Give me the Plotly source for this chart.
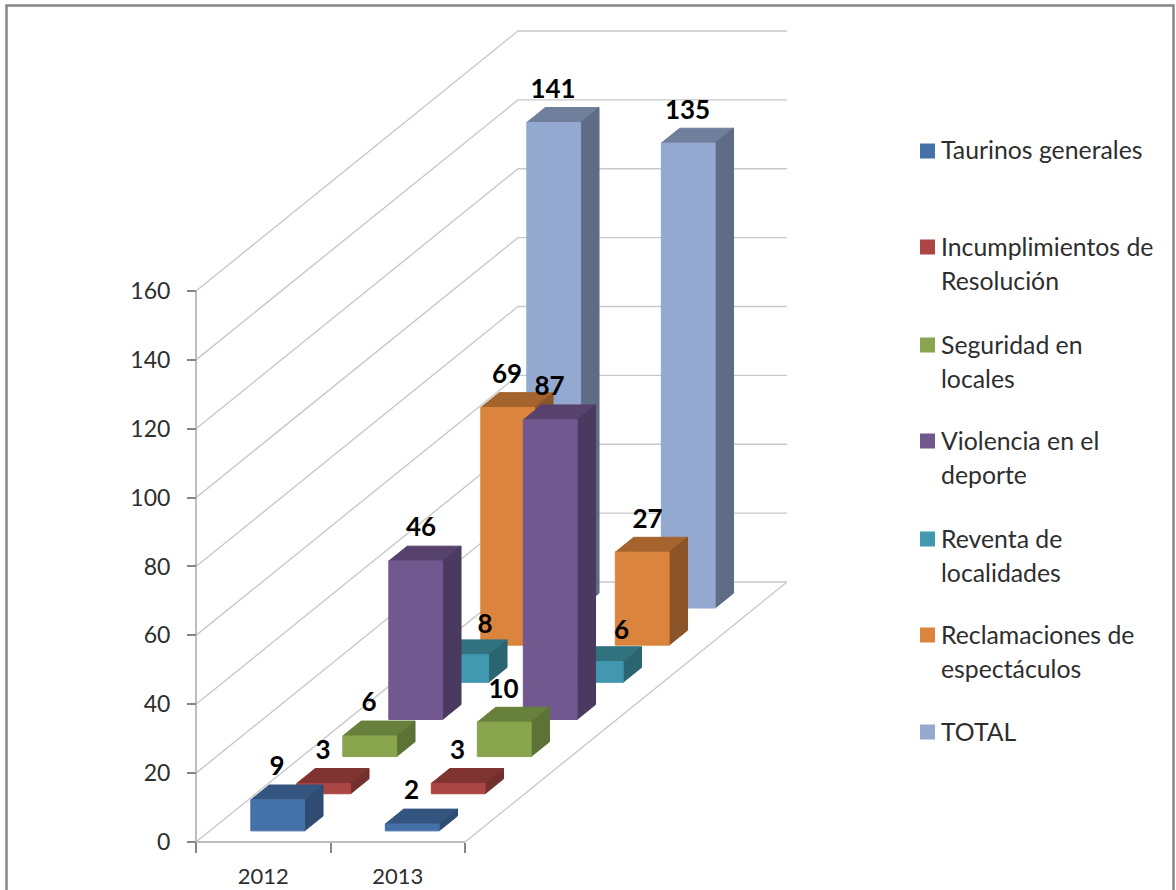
import plotly.graph_objects as go

# ---- data ----
years = ["2012", "2013"]
series_names = ["Taurinos generales", "Incumplimientos de<br>Resolución", "Seguridad en<br>locales",
                "Violencia en el<br>deporte", "Reventa de<br>localidades",
                "Reclamaciones de<br>espectáculos", "TOTAL"]
taurinos = [9, 2]
incumplimientos = [3, 3]
seguridad = [6, 10]
violencia = [46, 87]
reventa = [8, 6]
reclamaciones = [69, 27]
total = [141, 135]
y_ticks = [0, 20, 40, 60, 80, 100, 120, 140, 160]

all_series = [taurinos, incumplimientos, seguridad, violencia, reventa, reclamaciones, total]
front_colors = ["#4472A8", "#AA4643", "#89A54E", "#71588F", "#4198AF", "#DB843D", "#93A9CF"]
top_colors = ["#34557F", "#803432", "#67803B", "#57426E", "#31727F", "#A5632E", "#6F7F9C"]
side_colors = ["#2F4D73", "#722F2D", "#5C7335", "#4B3A5F", "#2B6572", "#8B5529", "#5F6C85"]

W, H = 1176, 890
PX_X = 134.5          # pixels per category
PX_Y = 3.444          # pixels per value unit
X0, Y0 = 196, 842     # pixel position of the axis origin
DX = 46 / PX_X        # oblique depth, per series, in x units
DY = 37.14 / PX_Y     # oblique depth, per series, in value units
GAP_X, GAP, BAR = 0.305, 0.3, 0.4
N = len(all_series)
FONT = "Lato"
# labels the original chart had moved by hand: (series, category) -> pixels right, pixels further up
LABEL_NUDGE = {(3, 0): (6, 1), (5, 1): (6, 0), (4, 0): (24, -3), (4, 1): (26, -2)}


def proj(c, v, d):
    return c + d * DX, v + d * DY


def poly(points, color, line=None):
    xs = [p[0] for p in points] + [points[0][0]]
    ys = [p[1] for p in points] + [points[0][1]]
    return go.Scatter(x=xs, y=ys, mode="lines", fill="toself", fillcolor=color,
                      line=dict(color=line or color, width=1), hoverinfo="skip", showlegend=False)


fig = go.Figure()

# walls and floor
gx, gy = [], []
for v in y_ticks:
    for p in (proj(0, v, 0), proj(0, v, N), proj(2, v, N)):
        gx.append(p[0]); gy.append(p[1])
    gx.append(None); gy.append(None)
for p in (proj(2, 0, 0), proj(2, 0, N)):
    gx.append(p[0]); gy.append(p[1])
fig.add_trace(go.Scatter(x=gx, y=gy, mode="lines", line=dict(color="#C9C9C9", width=1.4),
                         hoverinfo="skip", showlegend=False))
fig.add_trace(go.Scatter(x=[0, 0, 2], y=[y_ticks[-1], 0, 0], mode="lines",
                         line=dict(color="#BDBDBD", width=2), hoverinfo="skip", showlegend=False))

# bars, back to front
lx, ly, lt = [], [], []
for s in range(N - 1, -1, -1):
    d0, d1 = s + GAP, s + GAP + BAR
    for c, v in enumerate(all_series[s]):
        a, b = c + GAP_X, c + GAP_X + BAR
        fig.add_trace(poly([proj(a, v, d0), proj(b, v, d0), proj(b, v, d1), proj(a, v, d1)], top_colors[s]))
        fig.add_trace(poly([proj(b, 0, d0), proj(b, v, d0), proj(b, v, d1), proj(b, 0, d1)], side_colors[s]))
        fig.add_trace(poly([proj(a, 0, d0), proj(b, 0, d0), proj(b, v, d0), proj(a, v, d0)], front_colors[s]))
        px, py = proj(c + 0.5, v, d0)
        nx, ny = LABEL_NUDGE.get((s, c), (0, 0))
        lx.append(px + nx / PX_X); ly.append(py + (31 + ny) / PX_Y); lt.append(str(v))

fig.add_trace(go.Scatter(x=lx, y=ly, text=lt, mode="text", textposition="middle center",
                         textfont=dict(family=FONT, size=26, color="#000000", weight="bold"),
                         hoverinfo="skip", showlegend=False))

# legend drawn at the reference's spacing
LEG_X0, LEG_TXT = 920, 939
LEG_Y = [151, 247, 345, 441, 539, 635, 732]
shapes = []
annotations = []
for name, col, ly0 in zip(series_names, front_colors, LEG_Y):
    shapes.append(dict(type="rect", xref="paper", yref="paper",
                       x0=LEG_X0 / W, x1=(LEG_X0 + 15) / W,
                       y0=1 - (ly0 + 7.5) / H, y1=1 - (ly0 - 7.5) / H,
                       fillcolor=col, line=dict(width=0)))
    for i, part in enumerate(name.split("<br>")):
        annotations.append(dict(xref="paper", yref="paper", x=LEG_TXT / W, y=1 - (ly0 - 1 + 34 * i) / H,
                                text=part, showarrow=False, xanchor="left", yanchor="middle",
                                font=dict(family=FONT, size=24.8, color="#2E2E2E")))

# outer frame (open at the bottom, as cropped in the reference)
shapes.append(dict(type="path", xref="paper", yref="paper",
                   path=f"M {6.5/W} 0 L {6.5/W} {1-5.5/H} L {1173.5/W} {1-5.5/H} L {1173.5/W} 0",
                   line=dict(color="#868686", width=2.5)))

fig.update_layout(
    width=W, height=H, margin=dict(l=0, r=0, t=0, b=0, pad=0), autosize=False,
    paper_bgcolor="white", plot_bgcolor="white", showlegend=False,
    font=dict(family=FONT), shapes=shapes, annotations=annotations,
    xaxis=dict(range=[-X0 / PX_X, (W - X0) / PX_X], showgrid=False, zeroline=False, showline=False,
               anchor="free", position=(H - Y0) / H, automargin=False,
               tickmode="array", tickvals=[0.5, 1.5], ticktext=years, ticks="outside", ticklen=12,
               tickcolor="rgba(0,0,0,0)", ticklabelstandoff=3,
               tickfont=dict(family=FONT, size=22, color="#2E2E2E"),
               minor=dict(tickmode="array", tickvals=[0, 1, 2], ticks="outside", ticklen=10,
                          tickwidth=2, tickcolor="#868686", showgrid=False)),
    yaxis=dict(range=[-(H - Y0) / PX_Y, Y0 / PX_Y], showgrid=False, zeroline=False, showline=False,
               anchor="free", position=X0 / W, automargin=False,
               tickmode="array", tickvals=y_ticks, ticks="outside", ticklen=9, tickwidth=2,
               tickcolor="#868686", ticklabelstandoff=12,
               tickfont=dict(family=FONT, size=23, color="#2E2E2E")),
)

fig.write_html("out.html", config={"displayModeBar": False},
               post_script="document.body.style.margin='0';document.body.style.overflow='hidden';")
